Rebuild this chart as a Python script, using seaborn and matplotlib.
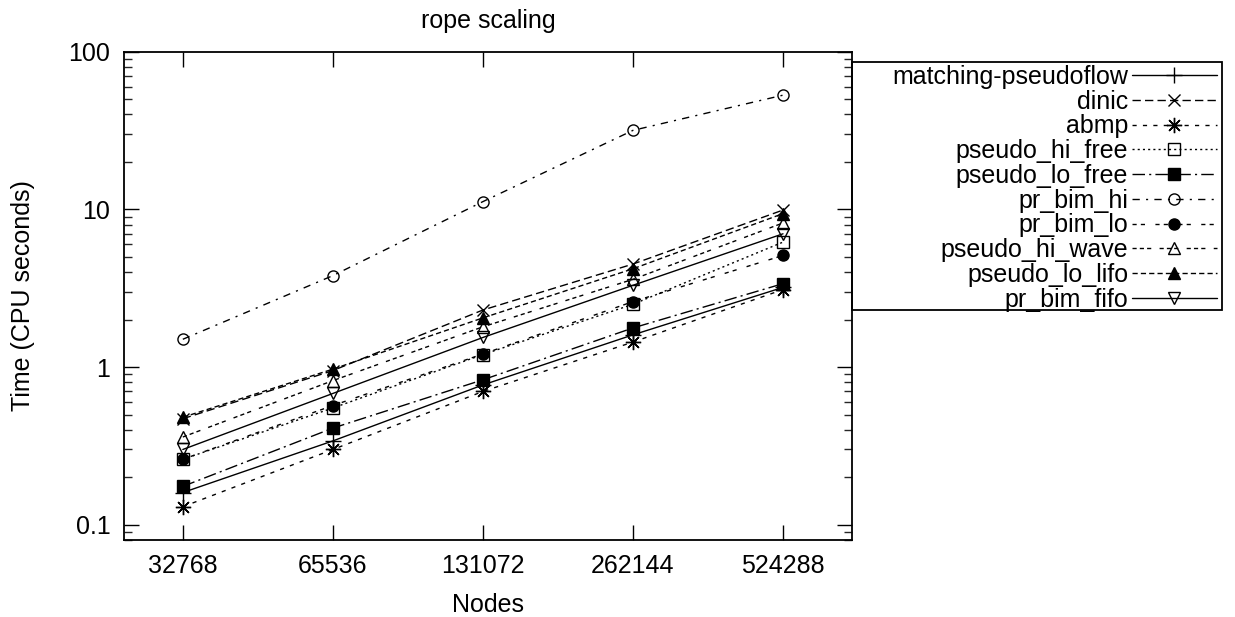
import numpy as np
import pandas as pd
import seaborn as sns
import matplotlib
matplotlib.use("Agg")
import matplotlib.pyplot as plt
from matplotlib.patches import Rectangle
from matplotlib.ticker import FixedLocator, FixedFormatter, LogLocator, NullFormatter, NullLocator

nodes = [32768, 65536, 131072, 262144, 524288]

series_names = [
    "matching-pseudoflow", "dinic", "abmp", "pseudo_hi_free", "pseudo_lo_free",
    "pr_bim_hi", "pr_bim_lo", "pseudo_hi_wave", "pseudo_lo_lifo", "pr_bim_fifo",
]

matching_pseudoflow = [0.16, 0.34, 0.77, 1.6, 3.2]
dinic = [0.47, 0.95, 2.3, 4.5, 9.9]
abmp = [0.13, 0.30, 0.70, 1.44, 3.1]
pseudo_hi_free = [0.26, 0.55, 1.2, 2.5, 6.2]
pseudo_lo_free = [0.175, 0.41, 0.83, 1.77, 3.38]
pr_bim_hi = [1.5, 3.8, 11.2, 31.7, 53]
pr_bim_lo = [0.26, 0.57, 1.21, 2.6, 5.1]
pseudo_hi_wave = [0.36, 0.82, 1.8, 3.6, 8.2]
pseudo_lo_lifo = [0.48, 0.97, 2.05, 4.2, 9.4]
pr_bim_fifo = [0.30, 0.68, 1.54, 3.3, 7.0]

all_values = [matching_pseudoflow, dinic, abmp, pseudo_hi_free, pseudo_lo_free,
              pr_bim_hi, pr_bim_lo, pseudo_hi_wave, pseudo_lo_lifo, pr_bim_fifo]

# gnuplot-like line types: (dash pattern, marker, open marker?)
u = 1.5
styles = [
    ((), "+", False),
    ((4 * u, 2 * u), "x", False),
    ((2 * u, 3 * u), (8, 2, 0), False),
    ((1 * u, 1.5 * u), "s", True),
    ((6 * u, 2 * u, 1 * u, 2 * u), "s", False),
    ((3.5 * u, 3 * u, 1 * u, 3 * u), "o", True),
    ((2 * u, 2 * u, 2 * u, 5 * u), "o", False),
    ((2 * u, 1.5 * u, 2 * u, 1.5 * u, 2 * u, 4 * u), "^", True),
    ((2.5 * u, 1.5 * u), "^", False),
    ((), "v", True),
]
marker_sizes = {"+": 11, "x": 9, "s": 8.5, "o": 8, "^": 8.5, "v": 8.5}

sns.set_style("ticks")
plt.rcParams["font.family"] = ["Liberation Sans", "DejaVu Sans"]
plt.rcParams["font.size"] = 18
plt.rcParams["text.color"] = "black"
plt.rcParams["axes.labelcolor"] = "black"

fig = plt.figure(figsize=(12.35, 6.17), dpi=100)
ax = fig.add_axes([0.1006, 0.1248, 0.589, 0.7914])

for name, vals, (dash, mk, hollow) in zip(series_names, all_values, styles):
    df = pd.DataFrame({"Nodes": nodes, "Time": vals})
    ms = marker_sizes.get(mk, 10) if isinstance(mk, str) else 11
    kw = dict(
        marker=mk, markersize=ms, markeredgecolor="black", markeredgewidth=1.0,
        markerfacecolor="none" if hollow else "black",
    )
    line_kw = {"linestyle": "-"} if dash == () else {"dashes": dash}
    sns.lineplot(data=df, x="Nodes", y="Time", ax=ax, color="black", linewidth=1.0,
                 label=name, **kw, **line_kw)

ax.set_xscale("log", base=2)
ax.set_yscale("log")
ax.set_xlim(25000, 720000)
ax.set_ylim(0.08, 100)

ax.xaxis.set_major_locator(FixedLocator(nodes))
ax.xaxis.set_major_formatter(FixedFormatter([str(n) for n in nodes]))
ax.xaxis.set_minor_locator(NullLocator())
ax.yaxis.set_major_locator(FixedLocator([0.1, 1, 10, 100]))
ax.yaxis.set_major_formatter(FixedFormatter(["0.1", "1", "10", "100"]))
ax.yaxis.set_minor_locator(LogLocator(base=10, subs=np.arange(2, 10)))
ax.yaxis.set_minor_formatter(NullFormatter())

ax.tick_params(which="major", direction="in", length=11, width=1.0, top=True, right=True,
               labelsize=18, pad=10, colors="black")
ax.tick_params(which="minor", direction="in", length=6, width=1.0, top=True, right=True)
for sp in ax.spines.values():
    sp.set_linewidth(1.3)
    sp.set_color("black")

ax.set_title("rope scaling", fontsize=18, pad=17, color="black")
ax.set_xlabel("Nodes", fontsize=18, labelpad=11)
ax.set_ylabel("Time (CPU seconds)", fontsize=18, labelpad=24)

leg = ax.legend(loc="upper right", bbox_to_anchor=(0.9854, 0.895), bbox_transform=fig.transFigure,
                borderaxespad=0, markerfirst=False, frameon=False, fontsize=18,
                handlelength=3.4, handletextpad=0.15, labelspacing=0.03, borderpad=0)

# legend box drawn as in the original (joined to the axes' right edge)
fig.patches.append(Rectangle((0.6896, 0.4976), 0.2996, 0.4015, transform=fig.transFigure,
                             fill=False, edgecolor="black", linewidth=1.3, zorder=5))

fig.savefig("out.png", dpi=100)
